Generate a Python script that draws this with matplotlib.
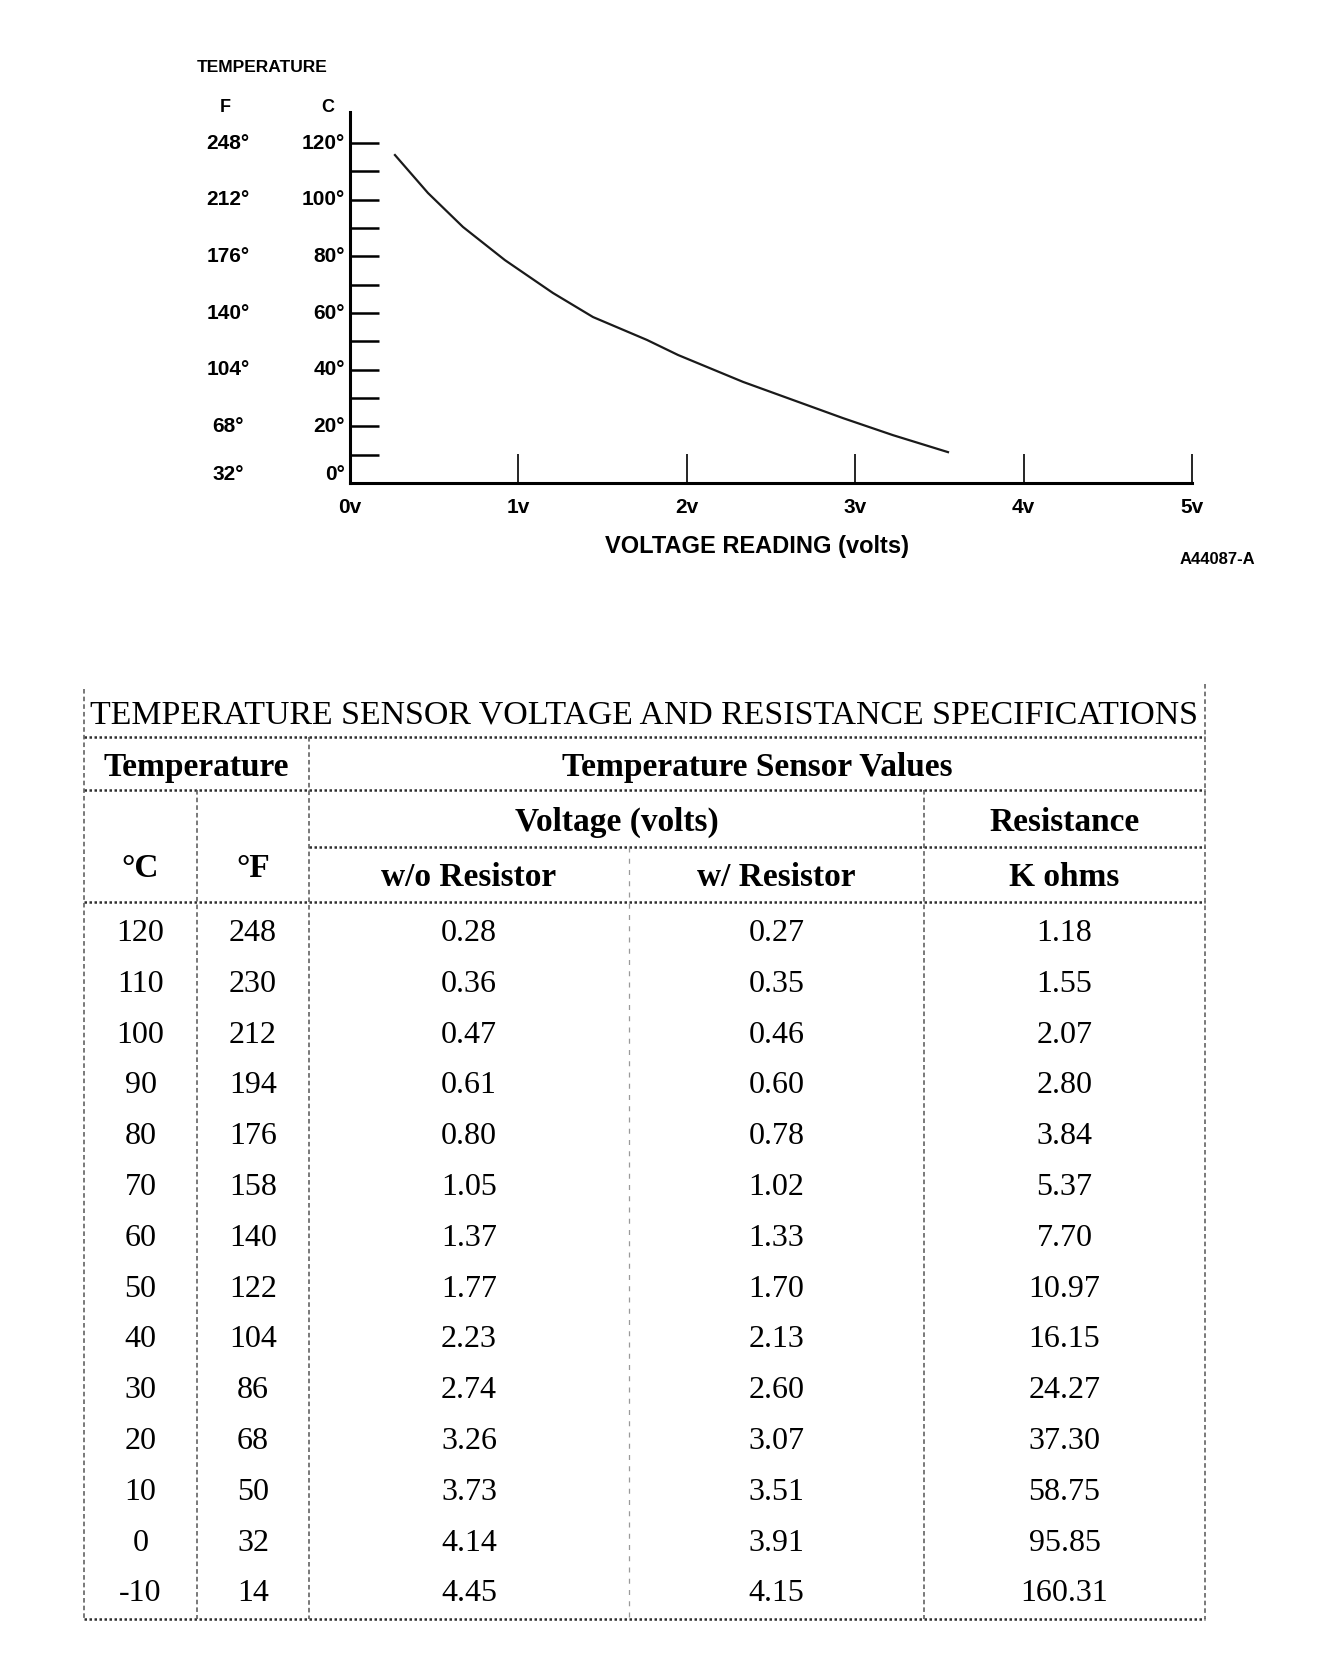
import matplotlib

matplotlib.use("Agg")
import numpy as np
from matplotlib import pyplot as plt

# ---- chart data ----
curve_volts = [0.267, 0.463, 0.671, 0.920, 1.205, 1.443, 1.764, 1.948, 2.334, 2.631, 2.928, 3.224, 3.551]
curve_temp_c = [115.8, 102.4, 90.4, 78.7, 67.1, 58.6, 50.5, 45.2, 35.7, 29.3, 22.9, 16.9, 10.9]

volt_ticks = [0, 1, 2, 3, 4, 5]
volt_labels = ["0v", "1v", "2v", "3v", "4v", "5v"]
c_ticks = [10, 20, 30, 40, 50, 60, 70, 80, 90, 100, 110, 120]
c_labels = [0, 20, 40, 60, 80, 100, 120]
f_labels = [32, 68, 104, 140, 176, 212, 248]

# ---- table data ----
temps_c = [120, 110, 100, 90, 80, 70, 60, 50, 40, 30, 20, 10, 0, -10]
temps_f = [248, 230, 212, 194, 176, 158, 140, 122, 104, 86, 68, 50, 32, 14]
volts_without = [0.28, 0.36, 0.47, 0.61, 0.80, 1.05, 1.37, 1.77, 2.23, 2.74, 3.26, 3.73, 4.14, 4.45]
volts_with = [0.27, 0.35, 0.46, 0.60, 0.78, 1.02, 1.33, 1.70, 2.13, 2.60, 3.07, 3.51, 3.91, 4.15]
resistance_k = [1.18, 1.55, 2.07, 2.80, 3.84, 5.37, 7.70, 10.97, 16.15, 24.27, 37.30, 58.75, 95.85, 160.31]

W, H = 1344, 1662
SANS = "Liberation Sans"
SERIF = "Liberation Serif"

fig = plt.figure(figsize=(W / 100, H / 100), dpi=100, facecolor="white")

# Chart axes, placed in pixel terms
ax_left, ax_right, ax_top, ax_bottom = 350, 1192, 112, 483
ax = fig.add_axes([ax_left / W, 1 - ax_bottom / H, (ax_right - ax_left) / W, (ax_bottom - ax_top) / H])
ax.set_xlim(0, 5)
ax.set_ylim(0, 131)
ax.patch.set_visible(False)
for side in ["top", "right"]:
    ax.spines[side].set_visible(False)
ax.spines["left"].set_linewidth(2.2)
ax.spines["bottom"].set_linewidth(2.2)

ax.set_yticks(c_ticks)
ax.tick_params(axis="y", direction="in", length=21, width=1.8, labelleft=False)
ax.set_xticks(volt_ticks)
ax.set_xticklabels(volt_labels, fontfamily=SANS, fontweight="bold", fontsize=15)
ax.tick_params(axis="x", direction="in", length=21, width=1.2, pad=11)

ax.plot(curve_volts, curve_temp_c, color="#1a1a1a", lw=1.6)

# Temperature labels: C column right of F column
for c, f in zip(c_labels, f_labels):
    dy = 9 if c == 0 else 0
    ax.annotate(f"{c}\u00b0", xy=(0, c), xycoords=("axes fraction", "data"), xytext=(-5, dy),
                textcoords="offset pixels", ha="right", va="center",
                fontfamily=SANS, fontweight="bold", fontsize=15)
    ax.annotate(f"{f}\u00b0", xy=(0, c), xycoords=("axes fraction", "data"), xytext=(-122, dy),
                textcoords="offset pixels", ha="center", va="center",
                fontfamily=SANS, fontweight="bold", fontsize=15)

# Overlay in pixel coordinates for the free text and the table
ov = fig.add_axes([0, 0, 1, 1])
ov.set_xlim(0, W)
ov.set_ylim(H, 0)
ov.axis("off")
ov.patch.set_visible(False)

ov.text(197, 67, "TEMPERATURE", ha="left", va="center", fontfamily=SANS, fontweight="bold", fontsize=12.5)
ov.text(225, 108, "F", ha="center", va="center", fontfamily=SANS, fontweight="bold", fontsize=13)
ov.text(328, 108, "C", ha="center", va="center", fontfamily=SANS, fontweight="bold", fontsize=13)
ov.text(757, 546, "VOLTAGE READING (volts)", ha="center", va="center", fontfamily=SANS, fontweight="bold", fontsize=17)
ov.text(1217, 560, "A44087-A", ha="center", va="center", fontfamily=SANS, fontweight="bold", fontsize=12)

# ---- table ----
t_left, t_right = 84, 1205
col_cf, col_temp, col_mid, col_res = 197, 309, 629, 924
h_title, h_row1, h_row2, h_head, t_bottom = 737, 790, 847, 902, 1619

dark = dict(color="#2e2e2e", lw=1.8, ls=(0, (1, 1)))
vert = dict(color="#555555", lw=1.1, ls=(0, (3, 2)))
light = dict(color="#9a9a9a", lw=0.9, ls=(0, (4, 5)))

for y in [h_title, h_row1, h_head, t_bottom]:
    ov.plot([t_left, t_right], [y, y], **dark)
ov.plot([col_temp, t_right], [h_row2, h_row2], **dark)
ov.plot([t_left, t_left], [689, t_bottom], **vert)
ov.plot([t_right, t_right], [684, t_bottom], **vert)
ov.plot([col_temp, col_temp], [h_title, t_bottom], **vert)
ov.plot([col_cf, col_cf], [h_row1, t_bottom], **vert)
ov.plot([col_res, col_res], [h_row1, t_bottom], **vert)
ov.plot([col_mid, col_mid], [h_row2, t_bottom], **light)

ov.text(90, 724, "TEMPERATURE SENSOR VOLTAGE AND RESISTANCE SPECIFICATIONS", ha="left", va="baseline",
        fontfamily=SERIF, fontsize=24.4)

bold = dict(fontfamily=SERIF, fontweight="bold", fontsize=24, ha="center", va="baseline")
ov.text((t_left + col_temp) / 2, 776, "Temperature", **bold)
ov.text((col_temp + t_right) / 2, 776, "Temperature Sensor Values", **bold)
ov.text((col_temp + col_res) / 2, 831, "Voltage (volts)", **bold)
ov.text((col_res + t_right) / 2, 831, "Resistance", **bold)
ov.text((t_left + col_cf) / 2, 877, "\u00b0C", **bold)
ov.text((col_cf + col_temp) / 2, 877, "\u00b0F", **bold)
ov.text((col_temp + col_mid) / 2, 886, "w/o Resistor", **bold)
ov.text((col_mid + col_res) / 2, 886, "w/ Resistor", **bold)
ov.text((col_res + t_right) / 2, 886, "K ohms", **bold)

centers = [(t_left + col_cf) / 2, (col_cf + col_temp) / 2, (col_temp + col_mid) / 2,
           (col_mid + col_res) / 2, (col_res + t_right) / 2]
row_y = 941 + 50.8 * np.arange(len(temps_c))
for i, y in enumerate(row_y):
    cells = [str(temps_c[i]), str(temps_f[i]), f"{volts_without[i]:.2f}",
             f"{volts_with[i]:.2f}", f"{resistance_k[i]:.2f}"]
    for x, s in zip(centers, cells):
        ov.text(x, y, s, ha="center", va="baseline", fontfamily=SERIF, fontsize=23)

fig.savefig("out.png", dpi=100, facecolor="white")
